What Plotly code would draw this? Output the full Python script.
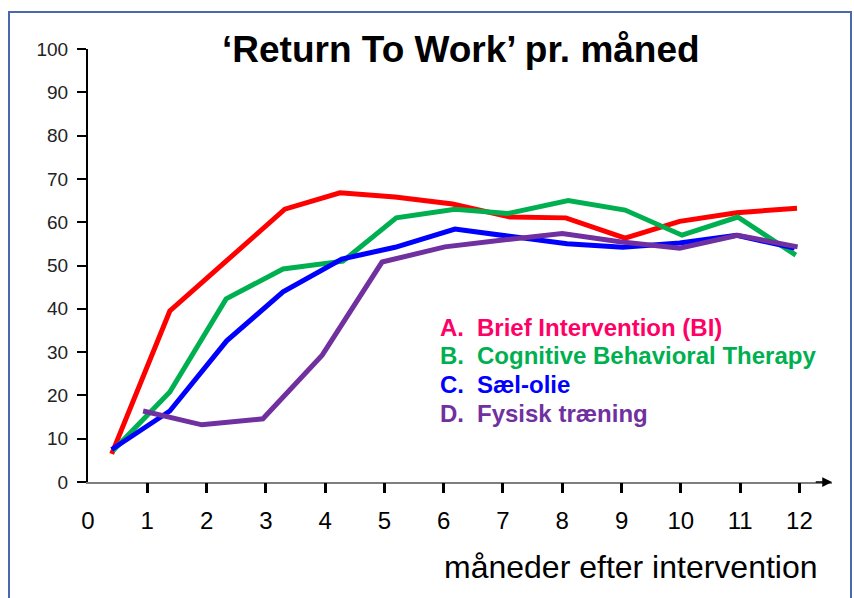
import plotly.graph_objects as go

# Return-to-work share (%) per month after the intervention
months_a = [0.4, 1.38, 2.33, 3.32, 4.25, 5.18, 6.15, 7.12, 8.06, 9.06, 9.98, 10.94, 11.96]
rtw_a = [6.5, 39.5, 51.0, 63.0, 66.8, 65.8, 64.2, 61.2, 61.0, 56.3, 60.2, 62.2, 63.2]

months_b = [0.42, 1.38, 2.33, 3.29, 4.3, 5.2, 6.19, 7.08, 8.1, 9.06, 10.02, 10.96, 11.94]
rtw_b = [7.2, 20.8, 42.3, 49.2, 51.0, 61.0, 63.0, 62.0, 65.0, 62.8, 57.0, 61.2, 52.4]

months_c = [0.4, 1.38, 2.34, 3.29, 4.28, 5.18, 6.19, 7.12, 8.08, 9.02, 9.98, 10.94, 11.92]
rtw_c = [7.5, 16.4, 32.6, 43.9, 51.5, 54.2, 58.4, 56.6, 55.0, 54.2, 55.2, 57.0, 54.0]

months_d = [0.93, 1.92, 2.95, 3.95, 4.96, 6.02, 7.07, 8.0, 8.97, 9.98, 10.96, 11.97]
rtw_d = [16.4, 13.2, 14.6, 29.3, 50.8, 54.3, 56.0, 57.4, 55.5, 54.0, 57.0, 54.3]

series_labels = ["Brief Intervention (BI)", "Cognitive Behavioral Therapy",
                 "Sæl-olie", "Fysisk træning"]
series_letters = ["A.", "B.", "C.", "D."]
line_colors = ["#FF0000", "#00B050", "#0000FF", "#7030A0"]
text_colors = ["#FF0066", "#00B050", "#0000FF", "#7030A0"]

x_ticks = list(range(0, 13))
y_ticks = list(range(0, 101, 10))

title_text = "‘Return To Work’ pr. måned"
x_title = "måneder efter intervention"

W, H = 854, 598
L, R, T, B = 88, 832, 49, 482  # plot area in pixels
X_MAX = 12.55


def px(x):
    return (x - L) / (R - L)


def py(y):
    return (B - y) / (B - T)


fig = go.Figure()

for mx, vals, col in [(months_a, rtw_a, line_colors[0]),
                      (months_b, rtw_b, line_colors[1]),
                      (months_c, rtw_c, line_colors[2]),
                      (months_d, rtw_d, line_colors[3])]:
    fig.add_trace(go.Scatter(x=mx, y=vals, mode="lines",
                             line=dict(color=col, width=5),
                             showlegend=False, hoverinfo="skip"))

# invisible trace that carries the tick-only x axis
fig.add_trace(go.Scatter(x=[0], y=[0], xaxis="x2", mode="markers",
                         marker=dict(opacity=0), showlegend=False,
                         hoverinfo="skip"))

fig.update_layout(
    width=W, height=H,
    margin=dict(l=L, r=W - R, t=T, b=H - B),
    paper_bgcolor="white", plot_bgcolor="white",
    font=dict(family="Liberation Sans, Arial, sans-serif", color="black"),
    xaxis=dict(range=[0, X_MAX], tickvals=x_ticks,
               ticktext=[str(v) for v in x_ticks],
               showgrid=False, zeroline=False,
               showline=True, linecolor="#7F7F7F", linewidth=1.5,
               ticks="", tickfont=dict(size=24, color="black"),
               ticklabelstandoff=16),
    xaxis2=dict(range=[0, X_MAX], overlaying="x", side="bottom",
                tickvals=x_ticks[1:], showticklabels=False,
                showgrid=False, zeroline=False, showline=False,
                ticks="outside", ticklen=10, tickwidth=2.5,
                tickcolor="black"),
    yaxis=dict(range=[0, 100], tickvals=y_ticks,
               showgrid=False, zeroline=False,
               showline=True, linecolor="black", linewidth=2,
               ticks="outside", ticklen=9, tickwidth=2,
               tickcolor="black",
               tickfont=dict(size=19, color="#222222"),
               ticklabelstandoff=5),
)

# slide frame
fig.add_shape(type="rect", xref="paper", yref="paper",
              x0=px(9), x1=px(851), y0=py(620), y1=py(12),
              line=dict(color="#4A69AC", width=2), fillcolor="rgba(0,0,0,0)",
              layer="below")

# arrow head at the end of the x axis
fig.add_annotation(x=X_MAX, y=0, ax=X_MAX - 0.3, ay=0, xref="x", yref="y",
                   axref="x", ayref="y", text="", showarrow=True,
                   arrowhead=2, arrowsize=1.3, arrowwidth=1.5,
                   arrowcolor="black")

# title
fig.add_annotation(x=px(461), y=py(50), xref="paper", yref="paper",
                   text="<b>" + title_text + "</b>", showarrow=False,
                   font=dict(size=37, color="black",
                             family="Liberation Sans, Arial, sans-serif"),
                   xanchor="center", yanchor="middle")

# x axis title
fig.add_annotation(x=px(820), y=py(567), xref="paper", yref="paper",
                   text=x_title, showarrow=False,
                   font=dict(size=32, color="black"),
                   xanchor="right", yanchor="middle")

# series labels
label_rows = [327, 355, 384, 413]
for letter, label, col, yrow in zip(series_letters, series_labels,
                                    text_colors, label_rows):
    fig.add_annotation(x=px(438), y=py(yrow), xref="paper", yref="paper",
                       text="<b>" + letter + "</b>", showarrow=False,
                       font=dict(size=24, color=col),
                       xanchor="left", yanchor="middle")
    fig.add_annotation(x=px(475), y=py(yrow), xref="paper", yref="paper",
                       text="<b>" + label + "</b>", showarrow=False,
                       font=dict(size=24, color=col),
                       xanchor="left", yanchor="middle")

fig.write_html("out.html")
